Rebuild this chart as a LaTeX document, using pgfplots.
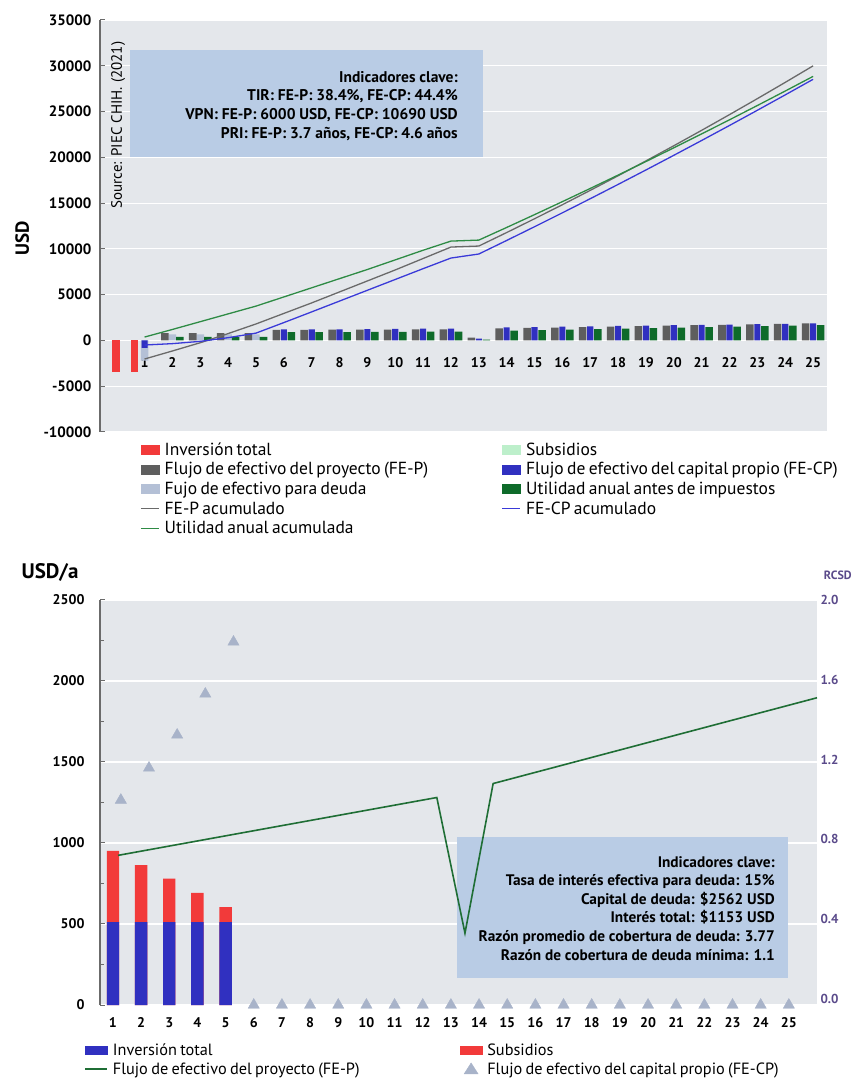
\documentclass[border=0pt]{standalone}
\usepackage{pgfplots}
\pgfplotsset{compat=1.18}
\usepackage{fontspec}
\setmainfont{PT Sans}
\definecolor{bgc}{HTML}{E4E7EB}
\definecolor{redc}{HTML}{F23A3A}
\definecolor{dgray}{HTML}{5E5E5E}
\definecolor{lightc}{HTML}{B4C0D6}
\definecolor{bluec}{HTML}{3030C0}
\definecolor{dgreen}{HTML}{0E6B2A}
\definecolor{lgreen}{HTML}{BDEFCB}
\definecolor{grayline}{HTML}{6A6A6A}
\definecolor{blueline}{HTML}{3A3AD8}
\definecolor{greenline}{HTML}{2E8B45}
\definecolor{greenline2}{HTML}{1F6E35}
\definecolor{boxc}{HTML}{B9CCE5}
\definecolor{tric}{HTML}{A8B3C9}
\definecolor{purp}{HTML}{5A4A8A}
\definecolor{axc}{HTML}{6B6B6B}
\newcommand\lfa{\fontsize{17.5bp}{17.5bp}\selectfont}
\newcommand\lfb{\fontsize{16.3bp}{16.3bp}\selectfont}
\pgfplotsset{
  /pgf/number format/assume math mode=true,
  /pgf/number format/1000 sep={},
  bar/.style={ybar, draw=none, bar width=0.27, forget plot},
}
\begin{document}
\begin{tikzpicture}
\useasboundingbox (0bp,0bp) rectangle (859bp,1080bp);
% ---------------- TOP CHART ----------------
\begin{axis}[
  at={(100bp,648bp)}, anchor=south west,
  scale only axis, width=727bp, height=412bp,
  xmin=-0.6, xmax=25.5, ymin=-10000, ymax=35000,
  clip=false,
  axis background/.style={fill=bgc},
  axis y line*=left, axis x line*=middle,
  x axis line style={draw=none},
  y axis line style={draw=axc, line width=1.6bp},
  xtick={1,...,25}, xtick style={draw=none},
  ytick={-10000,-5000,0,5000,10000,15000,20000,25000,30000,35000},
  ytick style={draw=axc, line width=1bp},
  tick align=inside, major tick length=5bp,
  ymajorgrids, grid style={white, line width=1.2bp},
  scaled y ticks=false,
  yticklabel style={font=\bfseries\fontsize{15bp}{15bp}\selectfont, xshift=-5bp},
  xticklabel style={font=\bfseries\fontsize{14bp}{14bp}\selectfont, yshift=-14bp},
  legend columns=2, legend cell align=left,
  legend style={draw=none, fill=none, inner sep=0pt, at={(0.055,-0.029)}, anchor=north west,
    row sep=4.7bp, column sep=4bp,
    nodes={inner sep=1bp, text height=10bp, text depth=3bp, text width=332bp}},
]
% Inversion total
\addplot[bar, fill=redc, bar shift=-0.02] coordinates {(0,-3400)};
\addplot[bar, fill=redc, bar shift=-0.36] coordinates {(1,-3400)};
% Flujo para deuda
\addplot[bar, fill=lightc, bar shift=0] coordinates {(1,-2200) (2,650) (3,650) (4,650) (5,650)};
% FE-P
\addplot[bar, fill=dgray, bar shift=-0.27] coordinates {
 (2,800) (3,800) (4,800) (5,800) (6,1150) (7,1160) (8,1170) (9,1180) (10,1190) (11,1200) (12,1210) (13,300)
 (14,1310) (15,1360) (16,1410) (17,1460) (18,1510) (19,1560) (20,1610) (21,1660) (22,1710) (23,1760) (24,1810) (25,1860)};
% FE-CP
\addplot[bar, fill=bluec, bar width=0.22, bar shift=0] coordinates {
 (1,-800) (6,1200) (7,1210) (8,1220) (9,1240) (10,1260) (11,1280) (12,1300) (13,200)
 (14,1420) (15,1460) (16,1500) (17,1540) (18,1580) (19,1620) (20,1660) (21,1700) (22,1740) (23,1780) (24,1820) (25,1860)};
% Utilidad anual antes de impuestos
\addplot[bar, fill=dgreen, bar shift=0.27] coordinates {
 (2,400) (3,400) (4,400) (5,400) (6,900) (7,910) (8,920) (9,930) (10,940) (11,950) (12,960) (13,80)
 (14,1060) (15,1115) (16,1170) (17,1225) (18,1280) (19,1335) (20,1390) (21,1445) (22,1500) (23,1555) (24,1610) (25,1665)};
% FE-P acumulado
\addplot[no marks, color=grayline, line width=1.3bp, forget plot] coordinates {
 (1,-2030) (2,-1150) (3,-250) (4,750) (5,1800) (6,2950) (7,4100) (8,5300) (9,6500) (10,7700) (11,8950) (12,10200) (13,10310)
 (14,11785) (15,13290) (16,14825) (17,16390) (18,17985) (19,19610) (20,21265) (21,22950) (22,24665) (23,26410) (24,28185) (25,29990)};
% Utilidad anual acumulada
\addplot[no marks, color=greenline, line width=1.3bp, forget plot] coordinates {
 (1,370) (2,1200) (3,2050) (4,2900) (5,3750) (6,4750) (7,5750) (8,6750) (9,7750) (10,8800) (11,9850) (12,10850) (13,10960)
 (14,12340) (15,13740) (16,15160) (17,16600) (18,18060) (19,19540) (20,21040) (21,22560) (22,24100) (23,25660) (24,27240) (25,28840)};
% FE-CP acumulado
\addplot[no marks, color=blueline, line width=1.3bp, forget plot] coordinates {
 (1,-500) (2,-350) (3,-100) (4,300) (5,800) (6,1950) (7,3120) (8,4300) (9,5480) (10,6660) (11,7840) (12,9000) (13,9440)
 (14,10920) (15,12420) (16,13940) (17,15480) (18,17040) (19,18620) (20,20220) (21,21840) (22,23480) (23,25140) (24,26820) (25,28520)};
% legend
\addlegendimage{legend image code/.code={\fill[redc] (0bp,-2.5bp) rectangle (18bp,6.5bp);}}
\addlegendentry{\lfa Inversión total}
\addlegendimage{legend image code/.code={\fill[lgreen] (0bp,-2.5bp) rectangle (18bp,6.5bp);}}
\addlegendentry{\lfa Subsidios}
\addlegendimage{legend image code/.code={\fill[dgray] (0bp,-2.5bp) rectangle (18bp,6.5bp);}}
\addlegendentry{\lfa Flujo de efectivo del proyecto (FE-P)}
\addlegendimage{legend image code/.code={\fill[bluec] (0bp,-2.5bp) rectangle (18bp,6.5bp);}}
\addlegendentry{\lfa Flujo de efectivo del capital propio (FE-CP)}
\addlegendimage{legend image code/.code={\fill[lightc] (0bp,-2.5bp) rectangle (18bp,6.5bp);}}
\addlegendentry{\lfa Fujo de efectivo para deuda}
\addlegendimage{legend image code/.code={\fill[dgreen] (0bp,-2.5bp) rectangle (18bp,6.5bp);}}
\addlegendentry{\lfa Utilidad anual antes de impuestos}
\addlegendimage{legend image code/.code={\draw[grayline, line width=1.5bp] (0bp,2bp) -- (18bp,2bp);}}
\addlegendentry{\lfa FE-P acumulado}
\addlegendimage{legend image code/.code={\draw[blueline, line width=1.5bp] (0bp,2bp) -- (18bp,2bp);}}
\addlegendentry{\lfa FE-CP acumulado}
\addlegendimage{legend image code/.code={\draw[greenline, line width=1.5bp] (0bp,2bp) -- (18bp,2bp);}}
\addlegendentry{\lfa Utilidad anual acumulada}
% annotations
\node[fill=boxc, inner sep=0pt, minimum width=353bp, minimum height=107bp, anchor=north west]
  at (rel axis cs:0.0413,0.927) {};
\node[anchor=north east, align=right, inner sep=0pt, font=\bfseries\fontsize{15.5bp}{18.7bp}\selectfont]
  at (rel axis cs:0.4924,0.876) {Indicadores clave:\\TIR: FE-P: 38.4\%, FE-CP: 44.4\%\\VPN: FE-P: 6000 USD, FE-CP: 10690 USD\\PRI: FE-P: 3.7 años, FE-CP: 4.6 años};
\node[rotate=90, font=\fontsize{15bp}{15bp}\selectfont, inner sep=0pt] at (rel axis cs:0.025,0.745) {Source: PIEC CHIH. (2021)};
\node[rotate=90, font=\bfseries\fontsize{19bp}{19bp}\selectfont, inner sep=0pt] at (rel axis cs:-0.107,0.47) {USD};
\end{axis}
% ---------------- BOTTOM CHART ----------------
\begin{axis}[
  at={(100bp,75bp)}, anchor=south west,
  scale only axis, width=717bp, height=405bp,
  xmin=0.54, xmax=26, ymin=0, ymax=2500,
  clip=false,
  axis background/.style={fill=bgc},
  axis y line*=left, axis x line*=bottom,
  x axis line style={draw=none},
  y axis line style={draw=axc, line width=1.6bp},
  xtick={1,...,25}, xtick style={draw=none},
  ytick={0,500,1000,1500,2000,2500}, minor y tick num=1,
  ytick style={draw=axc, line width=1bp},
  tick align=inside, major tick length=5bp, minor tick length=4bp,
  ymajorgrids, grid style={white, line width=1.2bp},
  scaled y ticks=false,
  yticklabel style={font=\bfseries\fontsize{14bp}{14bp}\selectfont, xshift=-12bp},
  xticklabel style={font=\bfseries\fontsize{14bp}{14bp}\selectfont, yshift=-9bp},
  legend columns=2, legend cell align=left,
  legend style={draw=none, fill=none, inner sep=0pt, at={(-0.022,-0.0975)}, anchor=north west,
    row sep=3bp, column sep=4bp,
    nodes={inner sep=1bp, text height=10bp, text depth=3bp, text width=342bp}},
]
\addplot[ybar, bar width=0.44, fill=redc, draw=none, forget plot] coordinates {(1,952) (2,864) (3,780) (4,692) (5,604)};
\addplot[ybar, bar width=0.44, fill=bluec, draw=none, forget plot] coordinates {(1,512) (2,512) (3,512) (4,512) (5,512)};
\addplot[only marks, color=tric, mark=triangle*, mark size=6.5bp, mark options={fill=tric, draw=tric}, forget plot] coordinates {
 (1.28,1265) (2.28,1463) (3.28,1667) (4.28,1920) (5.28,2241)
 (6,0) (7,0) (8,0) (9,0) (10,0) (11,0) (12,0) (13,0) (14,0) (15,0) (16,0) (17,0) (18,0) (19,0) (20,0) (21,0) (22,0) (23,0) (24,0) (25,0)};
\addlegendimage{legend image code/.code={\fill[bluec] (0bp,-2bp) rectangle (22bp,6bp);}}
\addlegendentry{\lfb Inversión total}
\addlegendimage{legend image code/.code={\fill[redc] (0bp,-2bp) rectangle (22bp,6bp);}}
\addlegendentry{\lfb Subsidios}
\addlegendimage{legend image code/.code={\draw[greenline2, line width=1.5bp] (0bp,2bp) -- (22bp,2bp);}}
\addlegendentry{\lfb Flujo de efectivo del proyecto (FE-P)}
\addlegendimage{legend image code/.code={\fill[tric] (4bp,-3bp) -- (18bp,-3bp) -- (11bp,8bp) -- cycle;}}
\addlegendentry{\lfb Flujo de efectivo del capital propio (FE-CP)}
\node[fill=boxc, inner sep=0pt, minimum width=331bp, minimum height=141bp, anchor=north west]
  at (rel axis cs:0.498,0.415) {};
\node[anchor=north east, align=right, inner sep=0pt, font=\bfseries\fontsize{15.3bp}{18.6bp}\selectfont]
  at (rel axis cs:0.9414,0.3679) {Indicadores clave:\\Tasa de interés efectiva para deuda: 15\%\\Capital de deuda: \$2562 USD\\Interés total: \$1153 USD\\Razón promedio de cobertura de deuda: 3.77\\Razón de cobertura de deuda mínima: 1.1};
\node[font=\bfseries\fontsize{21bp}{21bp}\selectfont, inner sep=0pt] at (rel axis cs:-0.0697,1.069) {USD/a};
\node[font=\bfseries\fontsize{12bp}{12bp}\selectfont, text=purp, inner sep=0pt] at (rel axis cs:1.029,1.062) {RCSD};
\end{axis}
\begin{axis}[
  at={(100bp,75bp)}, anchor=south west,
  scale only axis, width=717bp, height=405bp,
  xmin=0.54, xmax=26, ymin=-0.03, ymax=2.0,
  clip=false,
  axis y line*=right, axis x line=none,
  y axis line style={draw=none},
  ytick={0,0.4,0.8,1.2,1.6,2.0}, ytick style={draw=none},
  yticklabel style={font=\bfseries\fontsize{13bp}{13bp}\selectfont, text=purp,
    /pgf/number format/.cd, fixed, fixed zerofill, precision=1},
]
\addplot[no marks, color=greenline2, line width=1.6bp] coordinates {(1.18,0.72) (12.5,1.01) (13.5,0.33) (14.5,1.08) (26,1.51)};
\end{axis}
\end{tikzpicture}
\end{document}
